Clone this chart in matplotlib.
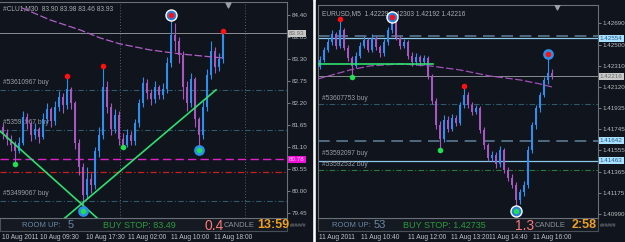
import matplotlib
matplotlib.use('Agg')
import matplotlib.pyplot as plt
from matplotlib.patches import Rectangle
from matplotlib.transforms import blended_transform_factory

# ---- left chart: #CLU1 M30 ----
cl_open0 = 81.60
cl_close = [81.45, 81.30, 81.15, 81.00, 81.20, 81.85, 81.70, 81.40, 81.55, 81.35,
            81.80, 82.05, 81.75, 82.10, 82.35, 82.15, 82.55, 82.20, 81.20, 80.60,
            79.90, 80.30, 80.15, 81.00, 81.40, 82.60, 82.10, 81.55, 81.90, 81.30,
            81.15, 81.40, 81.25, 81.70, 82.20, 82.70, 82.45, 82.30, 82.60, 82.40,
            82.55, 83.20, 83.90, 83.75, 83.40, 82.60, 82.20, 82.80, 81.80, 81.40,
            82.10, 82.90, 83.50, 83.10, 83.30, 83.93]
cl_high = [81.70, 81.55, 81.40, 81.25, 81.35, 82.00, 81.95, 81.75, 81.70, 81.60,
           81.95, 82.20, 82.10, 82.25, 82.50, 82.45, 82.87, 82.60, 82.25, 81.30,
           80.70, 80.60, 80.45, 81.10, 81.60, 83.12, 82.75, 82.20, 82.05, 82.00,
           81.45, 81.55, 81.50, 81.80, 82.30, 82.85, 82.80, 82.55, 82.75, 82.65,
           82.70, 83.35, 84.40, 84.20, 83.85, 83.50, 82.75, 82.95, 82.85, 81.85,
           82.25, 83.05, 83.75, 83.60, 83.45, 83.99]
cl_low = [81.30, 81.15, 81.00, 80.67, 80.95, 81.15, 81.55, 81.25, 81.30, 81.20,
          81.30, 81.70, 81.60, 81.65, 82.00, 81.95, 82.05, 82.05, 81.05, 80.40,
          79.48, 79.80, 79.95, 80.05, 80.85, 81.30, 81.95, 81.40, 81.45, 81.15,
          81.09, 81.10, 81.15, 81.15, 81.60, 82.10, 82.30, 82.15, 82.20, 82.30,
          82.30, 82.45, 83.10, 83.50, 83.20, 82.30, 82.00, 82.10, 81.60, 81.02,
          81.30, 82.00, 82.80, 82.95, 83.00, 83.20]
cl_ma_x = [4.75, 11.75, 19.25, 24.25, 29.25, 36.75, 44.25, 54.75]
cl_ma_y = [84.57, 84.27, 84.02, 83.82, 83.67, 83.52, 83.42, 83.32]
cl_red_up = [16, 25, 55]
cl_red_ring = [42]
cl_green = [3, 30]
cl_green_ring = [20, 49]
cl_ticks = [84.40, 83.85, 83.30, 82.75, 82.20, 81.65, 81.10, 80.55, 80.00, 79.45]
cl_trend1 = ([-0.75, 23.5], [81.49, 79.32])
cl_trend2 = ([15.5, 53.25], [79.32, 82.52])
cl_bid = 83.93
cl_orders = [82.52, 81.52, 79.74]
cl_order_names = ['#53610967 buy', '#53591967 buy', '#53499067 buy']
cl_magenta = 80.78
cl_red_line = 80.47
cl_seps = [29.25, 60.5]
cl_dates = ['10 Aug 2011', '10 Aug 09:30', '10 Aug 17:30', '11 Aug 02:00', '11 Aug 10:00', '11 Aug 18:00']

# ---- right chart: EURUSD M5 ----
eu_open0 = 1.4230
eu_close = [1.4236, 1.4245, 1.4252, 1.4259, 1.4249, 1.4263, 1.4247, 1.4238, 1.4231, 1.4240,
            1.4249, 1.4254, 1.4245, 1.4256, 1.4248, 1.4242, 1.4252, 1.4263, 1.4270, 1.4256,
            1.4249, 1.4252, 1.4240, 1.4234, 1.4239, 1.4234, 1.4238, 1.4222, 1.4200, 1.4178,
            1.4166, 1.4183, 1.4175, 1.4184, 1.4180, 1.4196, 1.4205, 1.4196, 1.4190, 1.4193,
            1.4174, 1.4160, 1.4149, 1.4151, 1.4143, 1.4156, 1.4138, 1.4131, 1.4125, 1.4111,
            1.4118, 1.4125, 1.4156, 1.4178, 1.4193, 1.4205, 1.4218, 1.4225, 1.42216]
eu_high = [1.4240, 1.4248, 1.4256, 1.4263, 1.4261, 1.42728, 1.4265, 1.4250, 1.4240, 1.4243,
           1.4252, 1.4258, 1.4256, 1.4259, 1.4258, 1.4250, 1.4255, 1.4266, 1.42746, 1.4268,
           1.4258, 1.4255, 1.4254, 1.4243, 1.4242, 1.4241, 1.4241, 1.4240, 1.4224, 1.4202,
           1.4182, 1.4187, 1.4186, 1.4188, 1.4187, 1.4199, 1.42130, 1.4208, 1.4199, 1.4196,
           1.4195, 1.4176, 1.4162, 1.4155, 1.4154, 1.4159, 1.4158, 1.4141, 1.4134, 1.4127,
           1.4121, 1.4128, 1.4159, 1.4181, 1.4196, 1.4208, 1.4221, 1.42416, 1.4228]
eu_low = [1.4228, 1.4234, 1.4243, 1.4250, 1.4246, 1.4247, 1.4245, 1.4235, 1.42210, 1.4229,
          1.4238, 1.4247, 1.4243, 1.4243, 1.4245, 1.4239, 1.4240, 1.4250, 1.4260, 1.4254,
          1.4246, 1.4247, 1.4237, 1.4231, 1.4232, 1.4231, 1.4232, 1.4219, 1.4197, 1.4175,
          1.41559, 1.4163, 1.4172, 1.4173, 1.4177, 1.4178, 1.4193, 1.4193, 1.4187, 1.4188,
          1.4171, 1.4157, 1.4146, 1.4146, 1.4140, 1.4141, 1.4135, 1.4128, 1.4122, 1.41014,
          1.4108, 1.4115, 1.4122, 1.4153, 1.4175, 1.4190, 1.4203, 1.4215, 1.4219]
eu_ma_x = [-0.5, 7.5, 12.5, 20, 27.5, 35, 42.5, 50, 55, 58]
eu_ma_y = [1.42193, 1.42273, 1.42309, 1.42327, 1.42309, 1.42273, 1.42219, 1.42184, 1.42148, 1.42121]
eu_red_up = [5, 36]
eu_red_ring = [18]
eu_red_blue = [57]
eu_green = [8, 30]
eu_green_ring = [49]
eu_ticks = [1.42690, 1.42500, 1.42310, 1.42120, 1.41935, 1.41745, 1.41555, 1.41365, 1.41175, 1.40990]
eu_support = ([-0.5, 28.25], [1.42330, 1.42330])
eu_bid = 1.42216
eu_stop_dash = [1.42577, 1.41642]
eu_stop_solid = [1.42554, 1.41463]
eu_order = 1.41969
eu_order2 = 1.41380
eu_dates = ['11 Aug 2011', '11 Aug 10:40', '11 Aug 12:00', '11 Aug 13:20', '11 Aug 14:40', '11 Aug 16:00']

W, H = 625, 242
BG = '#10141c'
UP = '#2f8ff0'
DN = '#a658c0'
GRN = '#2fe070'
FS = 4.8
PS = 4.5   # price scale font size


def fx(x):
    return x / W


def fy(y):
    return 1 - y / H


def draw_candles(ax, open0, closes, highs, lows):
    prev = open0
    for i, (c, h, l) in enumerate(zip(closes, highs, lows)):
        col = UP if c >= prev else DN
        ax.vlines(i, l, h, color=col, lw=0.8, zorder=3)
        lo, hi = min(prev, c), max(prev, c)
        ax.bar(i, max(hi - lo, 1e-6), bottom=lo, width=0.7, color=col, lw=0, zorder=3)
        prev = c


def dots(ax, idx, vals, color, ring=None, zorder=6):
    xs = list(idx)
    ys = [vals[i] for i in idx]
    if ring == 'white':
        ax.scatter(xs, ys, s=80, color='white', zorder=zorder, lw=0)
        ax.scatter(xs, ys, s=48, color='#2a7fe0', zorder=zorder, lw=0)
    elif ring == 'blue':
        ax.scatter(xs, ys, s=60, color='#2a8fe8', zorder=zorder, lw=0)
    ax.scatter(xs, ys, s=16, color=color, zorder=zorder + 1, lw=0)


def price_box(ax, y, text, bg, fg):
    tr = blended_transform_factory(ax.transAxes, ax.transData)
    ax.text(1.007, y, text, transform=tr, fontsize=PS, color=fg, va='center', ha='left',
            bbox=dict(boxstyle='square,pad=0.15', fc=bg, ec='none'),
            zorder=10, clip_on=False)


def style_axes(ax, ticks, fmt):
    ax.set_facecolor(BG)
    ax.yaxis.tick_right()
    ax.set_yticks(ticks)
    ax.set_yticklabels([fmt.format(t) for t in ticks])
    ax.tick_params(axis='y', labelsize=PS, colors='#8a9098', labelcolor='#b8bcc0',
                   length=2, width=0.6, pad=1.5)
    ax.set_xticks([])
    for s in ax.spines.values():
        s.set_color('#6a7078')
        s.set_linewidth(0.8)


plt.rcParams['font.family'] = ['Liberation Sans', 'DejaVu Sans']
fig = plt.figure(figsize=(6.25, 2.42), dpi=100, facecolor='white')
fig.patches.append(Rectangle((0, 0), fx(312), 1, transform=fig.transFigure, color=BG, zorder=-5))
fig.patches.append(Rectangle((fx(316), 0), 1, 1, transform=fig.transFigure, color=BG, zorder=-5))
# status bars
for x0, x1 in [(0, 287), (318, 598)]:
    fig.patches.append(Rectangle((fx(x0), fy(231)), fx(x1 - x0), 13 / H, transform=fig.transFigure,
                                 fc='#151a22', ec='#4a5058', lw=0.8, zorder=-4))

# ---------- left ----------
axL = fig.add_axes([0, fy(218), fx(287), 216 / H])
style_axes(axL, cl_ticks, '{:.2f}')
axL.spines['left'].set_visible(False)
draw_candles(axL, cl_open0, cl_close, cl_high, cl_low)
axL.plot(cl_ma_x, cl_ma_y, color='#b060c8', lw=0.9, ls=(0, (6, 2)), zorder=4)
for s in cl_seps:
    axL.axvline(s, color='#5a6068', lw=0.7, ls=(0, (1, 2)), zorder=1)
axL.axhline(cl_bid, color='#8a8e94', lw=0.7, zorder=2)
for p in cl_orders:
    axL.axhline(p, color='#2f5a6c', lw=0.8, ls=(0, (5, 2, 1, 2)), zorder=2)
axL.axhline(cl_magenta, color='#e020c8', lw=1.0, ls=(0, (6, 3)), zorder=2)
axL.axhline(cl_red_line, color='#c82020', lw=0.9, ls=(0, (5, 2, 1, 2)), zorder=2)
axL.plot(*cl_trend1, color=GRN, lw=1.2, zorder=5)
axL.plot(*cl_trend2, color=GRN, lw=1.2, zorder=5)
dots(axL, cl_red_up, cl_high, '#ff1010')
dots(axL, cl_red_ring, cl_high, '#ff1010', ring='white')
dots(axL, cl_green, cl_low, '#20e050')
dots(axL, cl_green_ring, cl_low, '#20e050', ring='blue')
axL.set_xlim(-0.75, 71)
axL.set_ylim(79.3175, 84.7175)
price_box(axL, cl_bid, '83.93', '#c8c8c8', '#6a6a6a')
price_box(axL, cl_magenta, '80.78', '#f010d8', '#ffc0f0')
tr = blended_transform_factory(axL.transAxes, axL.transData)
for p, name in zip(cl_orders, cl_order_names):
    axL.text(0.01, p + 0.1, name, transform=tr, fontsize=FS, color='#9aa0a8', va='bottom', zorder=2)
axL.text(0.01, 0.985, '#CLU1,M30  83.90 83.98 83.46 83.93', transform=axL.transAxes,
         fontsize=FS, color='#a8acb0', va='top')
axL.scatter([0.795], [0.985], marker='v', s=12, color='#9aa0a8', transform=axL.transAxes, zorder=8)

# ---------- right ----------
axR = fig.add_axes([fx(318), fy(218), fx(280), 213 / H])
style_axes(axR, eu_ticks, '{:.5f}')
draw_candles(axR, eu_open0, eu_close, eu_high, eu_low)
axR.plot(eu_ma_x, eu_ma_y, color='#a050b8', lw=0.9, ls=(0, (6, 2)), zorder=4)
axR.axhline(eu_bid, color='#8a8e94', lw=0.7, zorder=2)
for p in eu_stop_dash:
    axR.axhline(p, color='#5a7a92', lw=1.2, ls=(0, (7, 4)), zorder=2)
for p in eu_stop_solid:
    axR.axhline(p, color='#8cc8ea', lw=0.9, zorder=2)
axR.axhline(eu_order, color='#2f5a6c', lw=0.8, ls=(0, (5, 2, 1, 2)), zorder=2)
axR.axhline(eu_order2, color='#2a7a3c', lw=0.8, ls=(0, (5, 2, 1, 2)), zorder=2)
axR.plot(*eu_support, color=GRN, lw=1.2, zorder=5)
dots(axR, eu_red_up, eu_high, '#ff1010')
dots(axR, eu_red_ring, eu_high, '#ff1010', ring='white')
dots(axR, eu_red_blue, eu_high, '#ff1010', ring='blue')
dots(axR, eu_green, eu_low, '#20e050')
dots(axR, eu_green_ring, eu_low, '#20e050', ring='white')
axR.set_xlim(-0.5, 69.5)
axR.set_ylim(1.40951, 1.42853)
price_box(axR, eu_stop_solid[0], '1.42554', '#a8e0ff', '#2a5a88')
price_box(axR, eu_bid, '1.42216', '#c8c8c8', '#6a6a6a')
price_box(axR, eu_stop_dash[1], '1.41642', '#a8e0ff', '#2a5a88')
price_box(axR, eu_stop_solid[1], '1.41463', '#a8e0ff', '#2a5a88')
trR = blended_transform_factory(axR.transAxes, axR.transData)
axR.text(0.015, eu_order + 0.0002, '#53607753 buy', transform=trR, fontsize=FS, color='#9aa0a8', va='bottom')
axR.text(0.015, eu_stop_solid[1] + 0.0003, '#53592097 buy', transform=trR, fontsize=FS, color='#9aa0a8', va='bottom')
axR.text(0.015, eu_order2 + 0.0002, '#53592532 buy', transform=trR, fontsize=FS, color='#9aa0a8', va='bottom')
axR.text(0.015, 0.975, 'EURUSD,M5  1.42229 1.42303 1.42192 1.42216', transform=axR.transAxes,
         fontsize=FS, color='#a8acb0', va='top')
axR.scatter([0.855], [0.99], marker='v', s=12, color='#9aa0a8', transform=axR.transAxes, zorder=8)

# ---------- status bars ----------
ys = fy(225.5)
for (xr, xn, xb, xv, xc, xt, xh), n, stop, val, tm in [
        ((22, 68, 103, 204, 224, 257, 290), '5', 'BUY STOP: 83.49', '0.4', '13:59'),
        ((332, 374, 403, 515, 535, 572, 600), '53', 'BUY STOP: 1.42735', '1.3', '2:58')]:
    fig.text(fx(xr), ys, 'ROOM UP:', fontsize=5.5, color='#6a88a8', va='center')
    fig.text(fx(xn), ys, n, fontsize=8, color='#6a88a8', va='center')
    fig.text(fx(xb), ys, stop, fontsize=6.5, color='#2a9a3a', va='center')
    fig.text(fx(xv), ys, val, fontsize=10, color='#ff7878', va='center')
    fig.text(fx(xc), ys, 'CANDLE', fontsize=5.5, color='#8a9098', va='center')
    fig.text(fx(xt), ys, tm, fontsize=9, color='#f0a020', va='center', weight='bold')
    fig.text(fx(xh), ys, '######', fontsize=3.6, color='#8a9098', va='center')

# ---------- date axis ----------
for xs_, labels in [([2, 40, 86, 128, 171, 214], cl_dates), ([319, 361, 408, 451, 489, 533], eu_dates)]:
    for x, lab in zip(xs_, labels):
        fig.text(fx(x), fy(237.5), lab, fontsize=FS, color='#c0c4c8', va='center')

fig.savefig('out.png', dpi=100, facecolor='white')
